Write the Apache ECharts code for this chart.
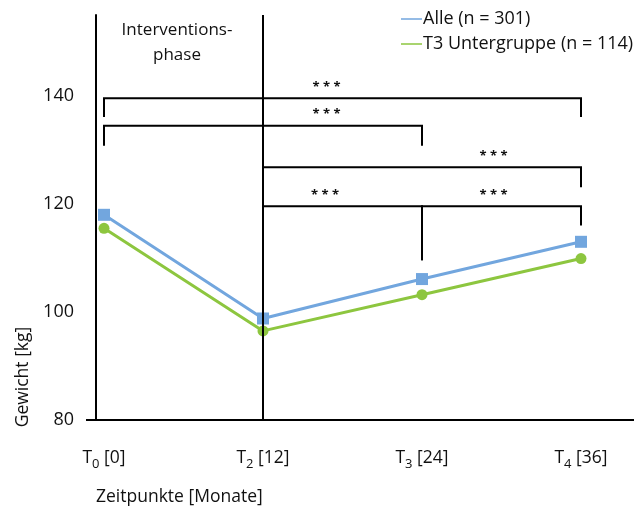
<!DOCTYPE html>
<html><head><meta charset="utf-8">
<script src="https://cdn.jsdelivr.net/npm/echarts@6/dist/echarts.min.js"></script>
<style>html,body{margin:0;padding:0;background:#fff}#c{width:636px;height:510px}</style>
</head><body><div id="c"></div>
<script>
const categories = ['T0 [0]', 'T2 [12]', 'T3 [24]', 'T4 [36]'];
const subs = ['0', '2', '3', '4'];
const months = ['0', '12', '24', '36'];
const alle = [118, 98.8, 106.1, 113];
const t3Gruppe = [115.5, 96.5, 103.2, 109.9];
const seriesNames = ['Alle (n = 301)', 'T3 Untergruppe (n = 114)'];
// brackets: [fromIndex, toIndex, levelValue, leftDropValue, rightDropValue, starIndexPos]
const brackets = [
  [0, 3, 139.6, 136.1, 136.1, 1.40],
  [0, 2, 134.5, 130.8, 130.8, 1.40],
  [1, 3, 126.8, 123.1, 123.1, 2.45],
  [1, 2, 119.6, 105.1, 109.6, 1.39],
  [2, 3, 119.6, 109.6, 116.0, 2.45]
];
const starText = '* * *';
const yTicks = [80, 100, 120, 140];

const FONT = 'Open Sans';
const chart = echarts.init(document.getElementById('c'));
chart.setOption({
  animation: false,
  textStyle: {fontFamily: FONT},
  grid: {left: 104, right: 55, top: 15, bottom: 90},
  legend: {
    orient: 'vertical', left: 396, top: 5, itemGap: 7,
    itemWidth: 21, itemHeight: 1.5, icon: 'rect',
    textStyle: {fontFamily: FONT, fontSize: 18, color: '#111', padding: [0,0,0,-4]},
    data: seriesNames
  },
  xAxis: {
    type: 'category', boundaryGap: false, data: categories,
    axisLine: {show: false}, axisTick: {show: false},
    axisLabel: {
      margin: 25,
      formatter: (v, i) => '{a|T}{s|' + subs[i] + '}{a| [' + months[i] + ']}',
      rich: {
        a: {fontFamily: FONT, fontSize: 17.5, color: '#111', verticalAlign: 'bottom', lineHeight: 22},
        s: {fontFamily: FONT, fontSize: 13, color: '#111', verticalAlign: 'bottom', lineHeight: 15, padding: [0,0,-4,0]}
      }
    }
  },
  yAxis: {
    type: 'value', min: 80, max: 155, interval: 20, offset: 8,
    axisLine: {show: true, lineStyle: {color: '#000', width: 2}},
    axisTick: {show: false}, splitLine: {show: false},
    axisLabel: {fontFamily: FONT, fontSize: 18, color: '#111', margin: 22, showMaxLabel: false,
      padding: [8, 0, 0, 0],
      formatter: v => yTicks.includes(v) ? String(v) : ''}
  },
  graphic: [
    {type: 'line', shape: {x1: 86, y1: 420, x2: 634, y2: 420}, style: {stroke: '#000', lineWidth: 2}, z: 10},
    {type: 'text', x: 177, y: 30, style: {text: 'Interventions-', fontFamily: FONT, fontSize: 17, fill: '#111', align: 'center', verticalAlign: 'middle'}},
    {type: 'text', x: 177, y: 55, style: {text: 'phase', fontFamily: FONT, fontSize: 17, fill: '#111', align: 'center', verticalAlign: 'middle'}},
    {type: 'text', x: 23, y: 377, rotation: Math.PI/2, style: {text: 'Gewicht [kg]', fontFamily: FONT, fontSize: 17.5, fill: '#111', align: 'center', verticalAlign: 'middle'}},
    {type: 'text', x: 96, y: 497, style: {text: 'Zeitpunkte [Monate]', fontFamily: FONT, fontSize: 17.5, fill: '#111', align: 'left', verticalAlign: 'middle'}}
  ],
  series: [
    {
      name: seriesNames[0], type: 'line', data: alle, color: '#72A6DE',
      symbol: 'rect', symbolSize: 12, lineStyle: {width: 3}, z: 3,
      markLine: {silent: true, symbol: 'none', label: {show: false},
        lineStyle: {color: '#000', width: 2, type: 'solid'},
        data: [[{coord: [categories[1], 80]}, {coord: [categories[1], 155]}]]}
    },
    {
      name: seriesNames[1], type: 'line', data: t3Gruppe, color: '#8DC63F',
      symbol: 'circle', symbolSize: 11, lineStyle: {width: 3}, z: 4
    },
    {
      type: 'custom', data: brackets, z: 5, silent: true,
      encode: {x: [0, 1], y: [2, 3, 4]},
      renderItem: (params, api) => {
        const f = api.value(0), t = api.value(1), lv = api.value(2), dl = api.value(3), dr = api.value(4), sp = api.value(5);
        const a = api.coord([f, lv]), b = api.coord([t, lv]);
        const al = api.coord([f, dl]), br = api.coord([t, dr]);
        const fl = Math.floor(sp), p0 = api.coord([fl, lv]), p1 = api.coord([fl + 1, lv]);
        const sx = p0[0] + (p1[0] - p0[0]) * (sp - fl);
        return {type: 'group', children: [
          {type: 'polyline', shape: {points: [[al[0], al[1]], [a[0], a[1]], [b[0], b[1]], [br[0], br[1]]]},
            style: {stroke: '#000', lineWidth: 2, fill: null}},
          {type: 'text', x: sx, y: a[1] - 11, style: {text: starText, fontFamily: FONT, fontSize: 13, fontWeight: 'bold', fill: '#111', align: 'center', verticalAlign: 'middle'}}
        ]};
      }
    }
  ]
});
</script></body></html>
